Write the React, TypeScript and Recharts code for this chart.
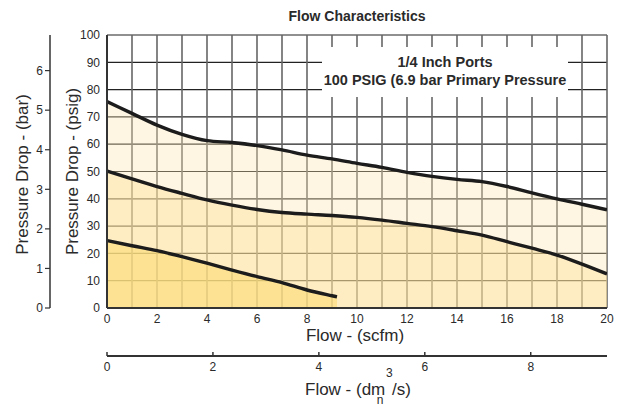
import React from 'react';
import { ComposedChart, Area, Line, XAxis, YAxis, CartesianGrid, Legend } from 'recharts';

// ---- data ----
const flowScfm = [0, 1, 2, 3, 4, 5, 6, 7, 8, 9, 10, 11, 12, 13, 14, 15, 16, 17, 18, 19, 20];
const outerPsig = [75.6, 71.3, 67, 63.6, 61.3, 60.6, 59.5, 57.9, 56, 54.6, 53, 51.5, 49.7, 48.2, 47.1, 46.3, 44.5, 42.2, 40, 38, 36];
const middlePsig = [50.2, 47.3, 44.5, 42, 39.6, 37.7, 36.1, 35, 34.4, 33.9, 33.2, 32.2, 31, 29.8, 28.3, 26.7, 24.3, 21.9, 19.4, 16.1, 12.5];
const innerFlow = [0, 1, 2, 3, 4, 5, 6, 7, 8, 9, 9.2];
const innerPsig = [24.7, 22.8, 21, 18.8, 16.4, 13.9, 11.5, 9.3, 6.6, 4.5, 4.1];

const scfmTicks = [0, 1, 2, 3, 4, 5, 6, 7, 8, 9, 10, 11, 12, 13, 14, 15, 16, 17, 18, 19, 20];
const dmTicks = [0, 2, 4, 6, 8];
const psigTicks = [0, 10, 20, 30, 40, 50, 60, 70, 80, 90, 100];
const barTicks = [0, 1, 2, 3, 4, 5, 6];

const chartTitle = 'Flow Characteristics';
const noteLine1 = '1/4 Inch Ports';
const noteLine2 = '100 PSIG (6.9 bar Primary Pressure';

const outerData = flowScfm.map((f, i) => ({ flow: f, psig: outerPsig[i] }));
const middleData = flowScfm.map((f, i) => ({ flow: f, psig: middlePsig[i] }));
const innerData = innerFlow.map((f, i) => ({ flow: f, psig: innerPsig[i] }));
const emptyData: { flow: number; psig: number }[] = [];

const FONT = '"Liberation Sans", Arial, Helvetica, sans-serif';
const TXT = '#2a2a2a';

const scfmLabel = (props: any) => {
  const vb = props.viewBox || { x: 107, y: 308, width: 500, height: 48 };
  return (
    <text x={vb.x + vb.width / 2 - 2} y={vb.y + 32.5} textAnchor="middle" fontSize={17} fill={TXT} fontFamily={FONT}>
      Flow - (scfm)
    </text>
  );
};

const dmLabel = (props: any) => {
  const vb = props.viewBox || { x: 107, y: 356, width: 500, height: 48 };
  return (
    <g fontFamily={FONT} fill={TXT}>
      <text x={vb.x + 198} y={vb.y + 39} fontSize={17}>Flow - (dm</text>
      <text x={vb.x + 279} y={vb.y + 21} fontSize={12}>3</text>
      <text x={vb.x + 285} y={vb.y + 39} fontSize={17}>/s)</text>
      <text x={vb.x + 273} y={vb.y + 47.5} fontSize={12} textAnchor="middle">n</text>
    </g>
  );
};

const psigLabel = (props: any) => {
  const vb = props.viewBox || { x: 50, y: 35, width: 57, height: 273 };
  const x = vb.x + 28;
  const y = vb.y + vb.height / 2;
  return (
    <text x={x} y={y} transform={`rotate(-90, ${x}, ${y})`} textAnchor="middle" fontSize={17} fill={TXT} fontFamily={FONT}>
      Pressure Drop - (psig)
    </text>
  );
};

const barLabel = (props: any) => {
  const vb = props.viewBox || { x: 0, y: 35, width: 50, height: 273 };
  const x = vb.x + 28;
  const y = vb.y + vb.height / 2 + 3;
  return (
    <text x={x} y={y} transform={`rotate(-90, ${x}, ${y})`} textAnchor="middle" fontSize={17} fill={TXT} fontFamily={FONT}>
      Pressure Drop - (bar)
    </text>
  );
};

const NoteBox = () => (
  <div style={{ width: 246, height: 50, background: '#ffffff' }}>
    <svg width={246} height={50} style={{ display: 'block' }}>
      <text x={123} y={19.5} textAnchor="middle" fontSize={14.5} fontWeight="bold" fill={TXT} fontFamily={FONT}>
        {noteLine1}
      </text>
      <text x={123} y={38} textAnchor="middle" fontSize={14.5} fontWeight="bold" fill={TXT} fontFamily={FONT}>
        {noteLine2}
      </text>
    </svg>
  </div>
);

export default function App() {
  return (
    <div style={{ position: 'absolute', left: 0, top: 0, width: 619, height: 404, background: '#fff' }}>
      <ComposedChart width={619} height={404} margin={{ top: 35, right: 12, bottom: 0, left: 0 }}>
        <CartesianGrid xAxisId="a_scfm" yAxisId="a_psig" vertical={false} stroke="#222" strokeWidth={1.2} />
        <CartesianGrid xAxisId="a_scfm" yAxisId="a_psig" horizontal={false} stroke="#666" strokeWidth={1.6} />
        <XAxis
          xAxisId="b_dm"
          type="number"
          dataKey="flow"
          domain={[0, 9.44]}
          allowDataOverflow
          ticks={dmTicks}
          interval={0}
          height={48}
          tickSize={-4}
          tickMargin={10.5}
          tickLine={{ stroke: '#333', strokeWidth: 1.5 }}
          axisLine={{ stroke: '#333', strokeWidth: 2 }}
          tick={{ fontSize: 12, fill: TXT, fontFamily: FONT }}
          label={dmLabel}
        />
        <XAxis
          xAxisId="a_scfm"
          type="number"
          dataKey="flow"
          domain={[0, 20]}
          allowDataOverflow
          ticks={scfmTicks}
          interval={0}
          tickFormatter={(v: number) => (v % 2 === 0 ? String(v) : '')}
          height={48}
          tickLine={false}
          tickSize={4}
          tickMargin={2}
          axisLine={{ stroke: '#333', strokeWidth: 2 }}
          tick={{ fontSize: 12, fill: TXT, fontFamily: FONT }}
          label={scfmLabel}
        />
        <YAxis
          yAxisId="b_bar"
          type="number"
          domain={[0, 6.9]}
          allowDataOverflow
          ticks={barTicks}
          interval={0}
          width={50}
          tickSize={5}
          tickMargin={2}
          tickLine={{ stroke: '#333', strokeWidth: 1.2 }}
          axisLine={{ stroke: '#333', strokeWidth: 1.5 }}
          tick={{ fontSize: 12, fill: TXT, fontFamily: FONT }}
          label={barLabel}
        />
        <YAxis
          yAxisId="a_psig"
          type="number"
          domain={[0, 100]}
          allowDataOverflow
          ticks={psigTicks}
          interval={0}
          width={57}
          tickLine={false}
          tickSize={5}
          tickMargin={2}
          axisLine={{ stroke: '#333', strokeWidth: 2 }}
          tick={{ fontSize: 12, fill: TXT, fontFamily: FONT }}
          label={psigLabel}
        />
        <Area xAxisId="a_scfm" yAxisId="a_psig" data={outerData} dataKey="psig" type="monotone" stroke="none" fill="rgb(252,229,172)" fillOpacity={0.35} isAnimationActive={false} />
        <Area xAxisId="a_scfm" yAxisId="a_psig" data={middleData} dataKey="psig" type="monotone" stroke="none" fill="rgb(254,223,151)" fillOpacity={0.4} isAnimationActive={false} />
        <Area xAxisId="a_scfm" yAxisId="a_psig" data={innerData} dataKey="psig" type="monotone" stroke="none" fill="rgb(252,220,116)" fillOpacity={0.6} isAnimationActive={false} />
        <Line xAxisId="a_scfm" yAxisId="a_psig" data={outerData} dataKey="psig" type="monotone" stroke="#1c1c1c" strokeWidth={3.4} dot={false} activeDot={false} isAnimationActive={false} />
        <Line xAxisId="a_scfm" yAxisId="a_psig" data={middleData} dataKey="psig" type="monotone" stroke="#1c1c1c" strokeWidth={3.4} dot={false} activeDot={false} isAnimationActive={false} />
        <Line xAxisId="a_scfm" yAxisId="a_psig" data={innerData} dataKey="psig" type="monotone" stroke="#1c1c1c" strokeWidth={3.4} dot={false} activeDot={false} isAnimationActive={false} />
        <Line xAxisId="b_dm" yAxisId="a_psig" data={emptyData} dataKey="psig" stroke="none" dot={false} activeDot={false} legendType="none" isAnimationActive={false} />
        <Legend
          verticalAlign="middle"
          content={() => <NoteBox />}
          wrapperStyle={{ position: 'absolute', left: 322, top: 47, width: 246, height: 50, margin: 0, padding: 0 }}
        />
      </ComposedChart>
      <svg width={619} height={30} style={{ position: 'absolute', left: 0, top: 0 }}>
        <text x={357} y={20.5} textAnchor="middle" fontSize={14} fontWeight="bold" fill={TXT} fontFamily={FONT}>
          {chartTitle}
        </text>
      </svg>
    </div>
  );
}
